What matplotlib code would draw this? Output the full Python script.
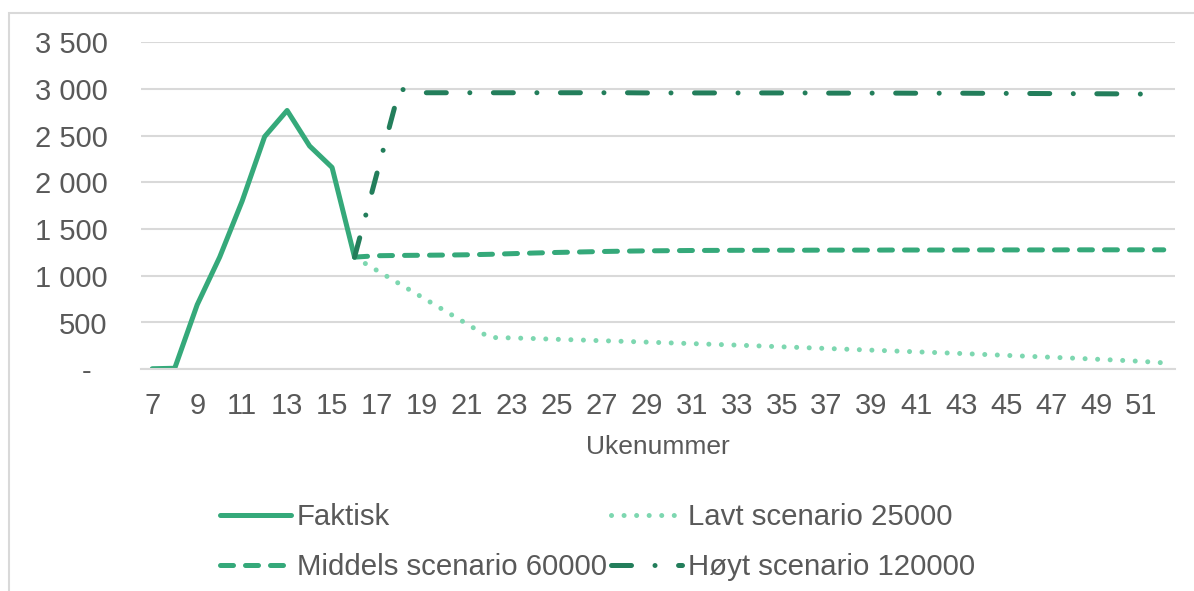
import numpy as np
import matplotlib
matplotlib.use("Agg")
import matplotlib.pyplot as plt
from matplotlib.patches import Rectangle

plt.rcParams['font.family'] = ['Liberation Sans', 'DejaVu Sans']

weeks = list(range(7, 53))
faktisk = [5, 10, 690, 1200, 1800, 2490, 2770, 2390, 2160, 1200]  # uke 7-16
# scenarioene starter i uke 16
lavt = [1200, 1057, 914, 771, 628, 485, 340, 335, 328, 320, 313, 305, 298, 290, 282,
        274, 266, 258, 249, 240, 231, 222, 213, 204, 195, 186, 177, 168, 158, 148,
        138, 128, 118, 107, 96, 84, 68]
middels = [1200, 1215, 1218, 1220, 1222, 1225, 1230, 1237, 1244, 1250, 1255, 1260, 1264,
           1267, 1269, 1271, 1272, 1273, 1273, 1274, 1274, 1275, 1275, 1275, 1276, 1276,
           1276, 1276, 1277, 1277, 1277, 1277, 1278, 1278, 1278, 1278, 1278]
hoyt = [1200, 2100, 3000, 2960, 2960, 2960, 2960, 2960, 2960, 2960, 2960, 2960, 2960,
        2958, 2958, 2958, 2958, 2958, 2958, 2958, 2958, 2956, 2956, 2956, 2956, 2955,
        2955, 2955, 2954, 2953, 2952, 2951, 2950, 2949, 2948, 2946, 2945]
labels = ['Faktisk', 'Lavt scenario 25000', 'Middels scenario 60000', 'Høyt scenario 120000']

c_main = '#35a97a'
c_light = '#7dd7b0'
c_dark = '#237e5b'
grey = '#595959'

x = np.arange(len(weeks))
def pad(vals, start):
    arr = np.full(len(weeks), np.nan)
    arr[start:start + len(vals)] = vals
    return arr

fig = plt.figure(figsize=(11.94, 5.91), dpi=100)
ax = fig.add_axes([141/1194, 1 - 369.2/591, (1175-141)/1194, (369.2-42.3)/591])

lw = 3.6
l0, = ax.plot(x, pad(faktisk, 0), color=c_main, lw=lw, solid_capstyle='round', solid_joinstyle='round', label=labels[0])
l1, = ax.plot(x, pad(lavt, 9), color=c_light, lw=lw, dashes=(0.01, 2.5), dash_capstyle='round', label=labels[1])
l2, = ax.plot(x, pad(middels, 9), color=c_main, lw=lw, dashes=(2.6, 2.4), dash_capstyle='round', label=labels[2])
l3, = ax.plot(x, pad(hoyt, 9), color=c_dark, lw=lw, dashes=(4.0, 4.7, 0.01, 4.7), dash_capstyle='round', label=labels[3])

ax.set_xlim(-0.5, len(weeks) - 0.5)
ax.set_ylim(0, 3500)
ax.set_yticks(range(0, 3501, 500))
ax.set_yticklabels(['-  '] + ['{:,}'.format(v).replace(',', ' ') for v in range(500, 3501, 500)])
ax.set_xticks(x[::2])
ax.set_xticklabels([str(w) for w in weeks[::2]])
ax.tick_params(axis='y', length=0, pad=24, labelsize=21, labelcolor=grey)
ax.tick_params(axis='x', length=0, pad=16.5, labelsize=21, labelcolor=grey)
ax.grid(axis='y', color='#d9d9d9', lw=1.5)
ax.set_axisbelow(True)
for s in ['top', 'right', 'left']:
    ax.spines[s].set_visible(False)
ax.spines['bottom'].set_color('#d9d9d9')
ax.spines['bottom'].set_linewidth(1.5)
ax.set_xlabel('Ukenummer', fontsize=19, color=grey, labelpad=11)

# rekkefølge rad for rad som i Excel
leg = fig.legend([l0, l2, l1, l3], [labels[0], labels[2], labels[1], labels[3]],
                 loc='upper left', bbox_to_anchor=(220/1194, 1 - 503/591), ncol=2,
                 frameon=False, fontsize=21.2, handlelength=2.4, handletextpad=0.2,
                 columnspacing=0.15, labelspacing=0.75, borderpad=0, borderaxespad=0)
for t in leg.get_texts():
    t.set_color(grey)

fig.patches.append(Rectangle((9/1194, -0.1), 1.5, 1 - 13/591 + 0.1, transform=fig.transFigure,
                             fill=False, edgecolor='#d9d9d9', lw=1.5))

fig.savefig('out.png', dpi=100)
